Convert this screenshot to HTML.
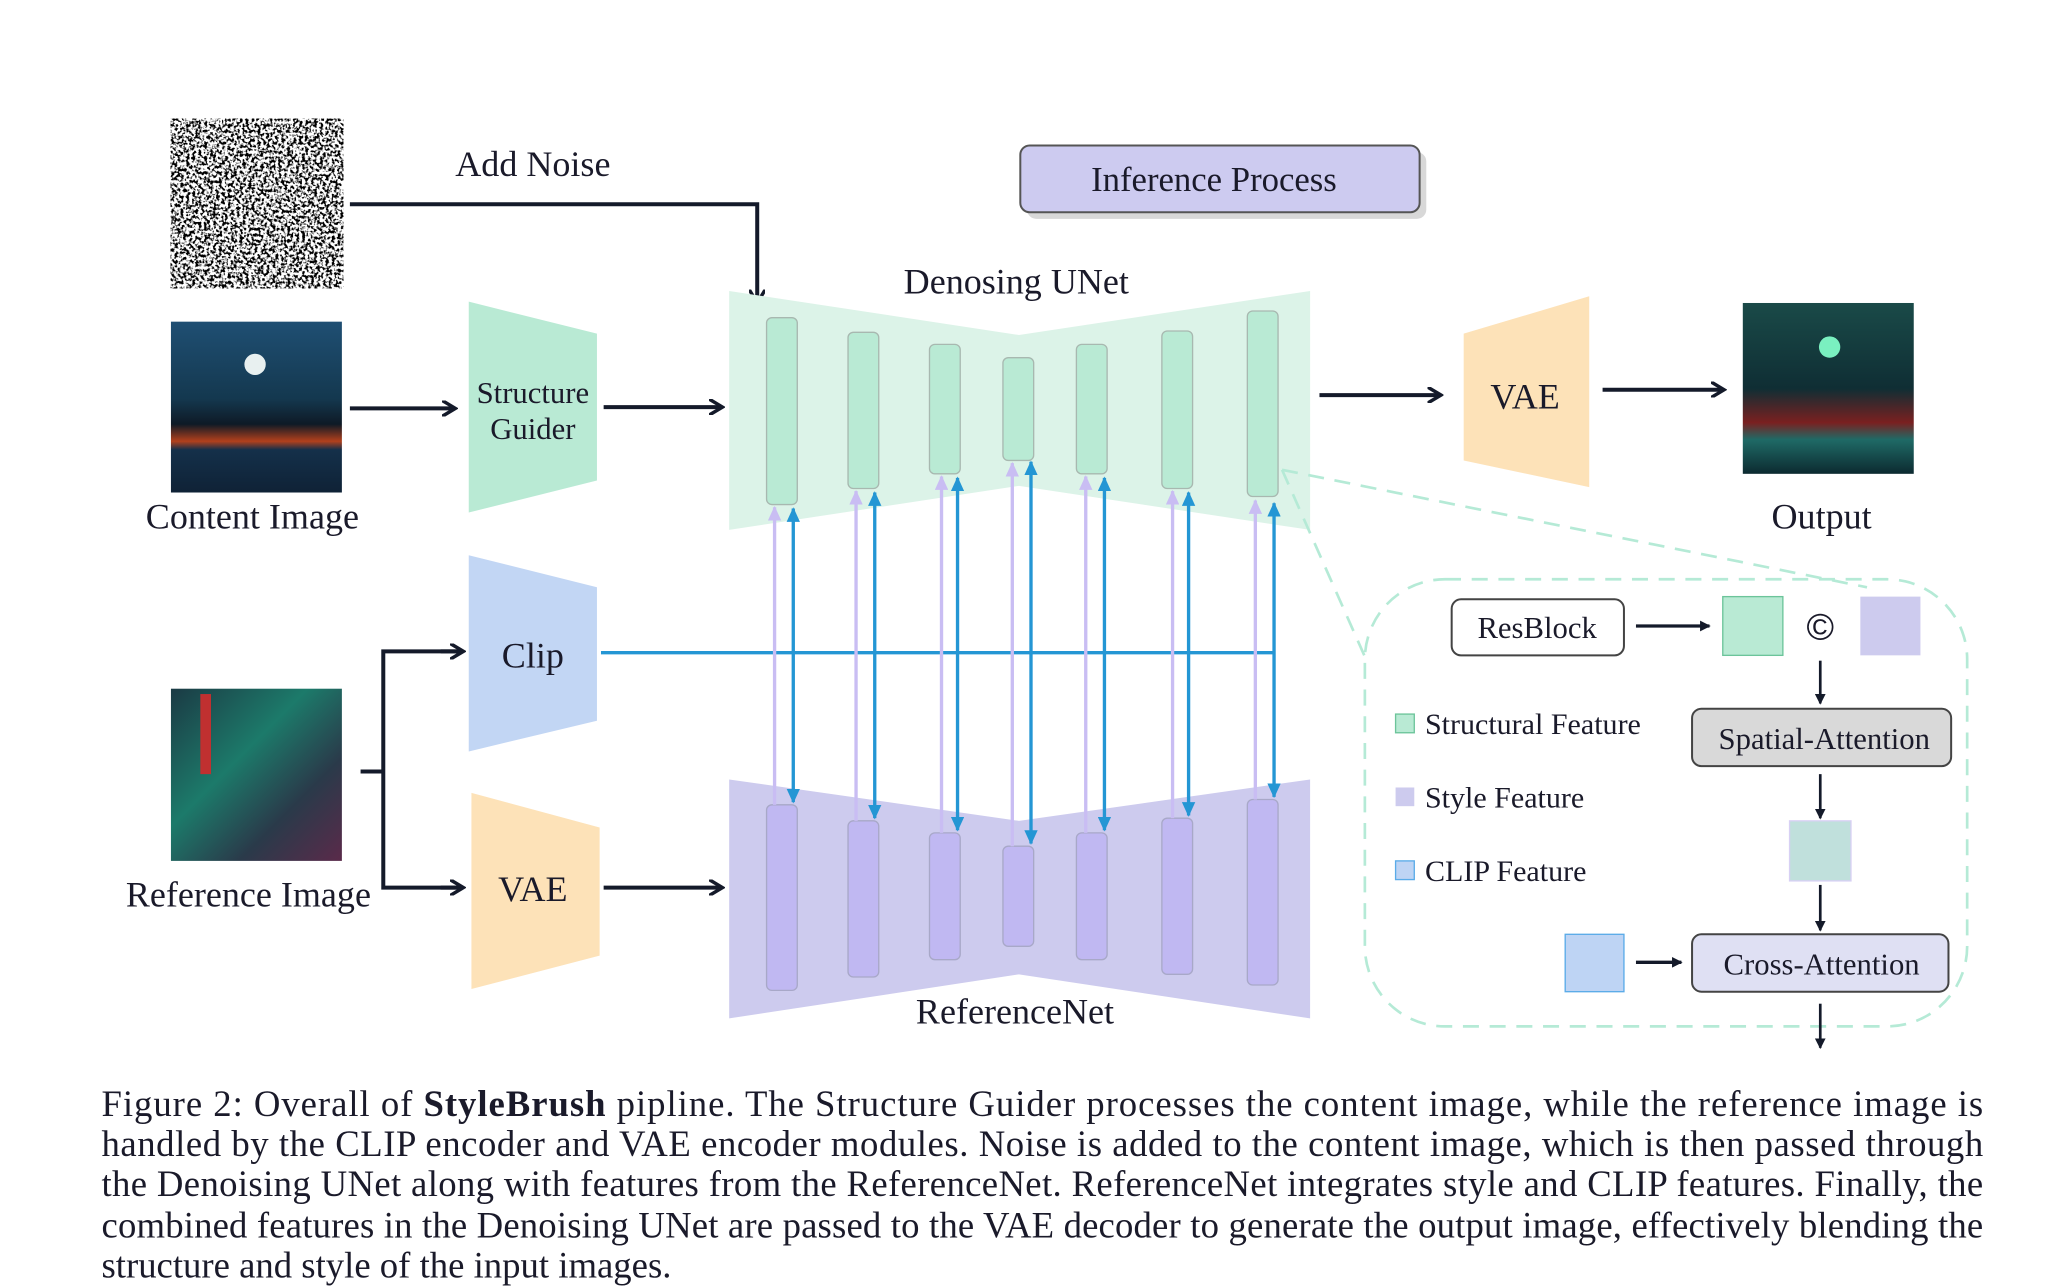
<!DOCTYPE html>
<html><head><meta charset="utf-8"><style>
html,body{margin:0;padding:0;background:#fff;}
svg{display:block;}
text{font-family:"Liberation Serif",serif;fill:#1a1a2a;}
</style></head><body>
<svg width="2070" height="1288" viewBox="0 0 1550 965" preserveAspectRatio="none" xmlns="http://www.w3.org/2000/svg">
<defs>
<filter id="nz" x="0" y="0" width="100%" height="100%">
<feTurbulence type="fractalNoise" baseFrequency="0.45" numOctaves="2" seed="3"/>
<feColorMatrix type="matrix" values="0 0 0 0 0  0 0 0 0 0  0 0 0 0 0  -6 0 0 0 3.3"/>
</filter>
<marker id="ak" markerWidth="12" markerHeight="12" refX="9" refY="6" orient="auto" markerUnits="userSpaceOnUse"><path d="M0,0 L10,6 L0,12" fill="none" stroke="#141a2a" stroke-width="2.6"/></marker>
<marker id="as" markerWidth="8" markerHeight="8" refX="7" refY="4" orient="auto" markerUnits="userSpaceOnUse"><path d="M0,0 L8,4 L0,8 Z" fill="#141a2a"/></marker>
<marker id="ab" markerWidth="12" markerHeight="10" refX="10" refY="5" orient="auto-start-reverse" markerUnits="userSpaceOnUse"><path d="M0,0 L11,5 L0,10 Z" fill="#2496d4"/></marker>
<marker id="ap" markerWidth="12" markerHeight="10" refX="10" refY="5" orient="auto" markerUnits="userSpaceOnUse"><path d="M0,0 L11,5 L0,10 Z" fill="#c9bdf3"/></marker>
<linearGradient id="g1" x1="0" y1="0" x2="0" y2="1"><stop offset="0" stop-color="#1f4f73"/><stop offset="0.45" stop-color="#14384f"/><stop offset="0.6" stop-color="#0e1a26"/><stop offset="0.7" stop-color="#b2401c"/><stop offset="0.75" stop-color="#14304a"/><stop offset="1" stop-color="#0f2236"/></linearGradient>
<linearGradient id="g2" x1="0" y1="0" x2="1" y2="1"><stop offset="0" stop-color="#1b3a44"/><stop offset="0.4" stop-color="#1c7a6a"/><stop offset="0.7" stop-color="#2a3a4a"/><stop offset="1" stop-color="#5a2a4a"/></linearGradient>
<linearGradient id="g3" x1="0" y1="0" x2="0" y2="1"><stop offset="0" stop-color="#1a4a48"/><stop offset="0.5" stop-color="#0f2e34"/><stop offset="0.7" stop-color="#7a2020"/><stop offset="0.8" stop-color="#1f6a66"/><stop offset="1" stop-color="#0c2a30"/></linearGradient>
</defs>

<rect x="128" y="89" width="129" height="127" fill="#fff"/>
<rect x="128" y="89" width="129" height="127" filter="url(#nz)"/>
<rect x="128" y="241" width="128" height="128" fill="url(#g1)"/>
<circle cx="191" cy="273" r="8" fill="#e8f0f0"/>
<rect x="128" y="516" width="128" height="129" fill="url(#g2)"/>
<rect x="150" y="520" width="8" height="60" fill="#c03030"/>
<rect x="1305" y="227" width="128" height="128" fill="url(#g3)"/>
<circle cx="1370" cy="260" r="8" fill="#7af0c0"/>

<text x="399" y="132" font-size="27" text-anchor="middle">Add Noise</text>
<text x="189" y="396" font-size="27" text-anchor="middle">Content Image</text>
<text x="186" y="679" font-size="27" text-anchor="middle">Reference Image</text>
<text x="1364" y="396" font-size="27" text-anchor="middle">Output</text>

<rect x="769" y="114" width="299" height="50" rx="7" fill="#d8d8d8"/>
<rect x="764" y="109" width="299" height="50" rx="7" fill="#cdcbf0" stroke="#555" stroke-width="1.5"/>
<text x="909" y="143" font-size="26" text-anchor="middle">Inference Process</text>

<polyline points="262,153 567,153 567,226" fill="none" stroke="#141a2a" stroke-width="3" marker-end="url(#ak)"/>
<line x1="262" y1="306" x2="340" y2="306" stroke="#141a2a" stroke-width="3" marker-end="url(#ak)"/>
<line x1="452" y1="305" x2="540" y2="305" stroke="#141a2a" stroke-width="3" marker-end="url(#ak)"/>
<polyline points="270,578 287,578" fill="none" stroke="#141a2a" stroke-width="3"/>
<polyline points="346,488 287,488 287,665 346,665" fill="none" stroke="#141a2a" stroke-width="3"/>
<line x1="330" y1="488" x2="346" y2="488" stroke="#141a2a" stroke-width="3" marker-end="url(#ak)"/>
<line x1="330" y1="665" x2="346" y2="665" stroke="#141a2a" stroke-width="3" marker-end="url(#ak)"/>
<line x1="452" y1="665" x2="540" y2="665" stroke="#141a2a" stroke-width="3" marker-end="url(#ak)"/>
<line x1="988" y1="296" x2="1078" y2="296" stroke="#141a2a" stroke-width="3" marker-end="url(#ak)"/>
<line x1="1200" y1="292" x2="1290" y2="292" stroke="#141a2a" stroke-width="3" marker-end="url(#ak)"/>

<polygon points="351,226 447,250 447,360 351,384" fill="#b9ead4"/>
<text x="399" y="302" font-size="23" text-anchor="middle">Structure</text>
<text x="399" y="329" font-size="23" text-anchor="middle">Guider</text>
<polygon points="351,416 447,440 447,540 351,563" fill="#c2d6f4"/>
<text x="399" y="500" font-size="27" text-anchor="middle">Clip</text>
<polygon points="353,594 449,620 449,716 353,741" fill="#fde2b8"/>
<text x="399" y="675" font-size="27" text-anchor="middle">VAE</text>
<polygon points="1096,250 1190,222 1190,365 1096,345" fill="#fde2b8"/>
<text x="1142" y="306" font-size="27" text-anchor="middle">VAE</text>

<polygon points="546,218 763,251 981,218 981,397 763,364 546,397" fill="#dcf3e8"/>
<text x="761" y="220" font-size="27" text-anchor="middle">Denosing UNet</text>
<polygon points="546,584 763,615 981,584 981,763 763,730 546,763" fill="#cdcbee"/>
<text x="760" y="767" font-size="27" text-anchor="middle">ReferenceNet</text>
<g stroke="#a8b8b0" stroke-width="1" fill="#b9ead4">
<rect x="574" y="238" width="23" height="140" rx="4"/>
<rect x="635" y="249" width="23" height="117" rx="4"/>
<rect x="696" y="258" width="23" height="97" rx="4"/>
<rect x="751" y="268" width="23" height="77" rx="4"/>
<rect x="806" y="258" width="23" height="97" rx="4"/>
<rect x="870" y="248" width="23" height="118" rx="4"/>
<rect x="934" y="233" width="23" height="139" rx="4"/>
</g>
<g stroke="#a8a8c8" stroke-width="1" fill="#c0b8f2">
<rect x="574" y="603" width="23" height="139" rx="4"/>
<rect x="635" y="615" width="23" height="117" rx="4"/>
<rect x="696" y="624" width="23" height="95" rx="4"/>
<rect x="751" y="634" width="23" height="75" rx="4"/>
<rect x="806" y="624" width="23" height="95" rx="4"/>
<rect x="870" y="613" width="23" height="117" rx="4"/>
<rect x="934" y="599" width="23" height="139" rx="4"/>
</g>
<line x1="450" y1="489" x2="955" y2="489" stroke="#2496d4" stroke-width="2.5"/>
<g stroke-width="2.5" fill="none">
<line x1="580" y1="603" x2="580" y2="380" stroke="#c9bdf3" marker-end="url(#ap)"/>
<line x1="641" y1="615" x2="641" y2="368" stroke="#c9bdf3" marker-end="url(#ap)"/>
<line x1="705" y1="624" x2="705" y2="357" stroke="#c9bdf3" marker-end="url(#ap)"/>
<line x1="758" y1="634" x2="758" y2="347" stroke="#c9bdf3" marker-end="url(#ap)"/>
<line x1="813" y1="624" x2="813" y2="357" stroke="#c9bdf3" marker-end="url(#ap)"/>
<line x1="878" y1="613" x2="878" y2="368" stroke="#c9bdf3" marker-end="url(#ap)"/>
<line x1="940" y1="599" x2="940" y2="375" stroke="#c9bdf3" marker-end="url(#ap)"/>
<line x1="594" y1="381" x2="594" y2="601" stroke="#2496d4" marker-start="url(#ab)" marker-end="url(#ab)"/>
<line x1="655" y1="369" x2="655" y2="613" stroke="#2496d4" marker-start="url(#ab)" marker-end="url(#ab)"/>
<line x1="717" y1="358" x2="717" y2="622" stroke="#2496d4" marker-start="url(#ab)" marker-end="url(#ab)"/>
<line x1="772" y1="346" x2="772" y2="632" stroke="#2496d4" marker-start="url(#ab)" marker-end="url(#ab)"/>
<line x1="827" y1="358" x2="827" y2="622" stroke="#2496d4" marker-start="url(#ab)" marker-end="url(#ab)"/>
<line x1="890" y1="369" x2="890" y2="611" stroke="#2496d4" marker-start="url(#ab)" marker-end="url(#ab)"/>
<line x1="954" y1="377" x2="954" y2="597" stroke="#2496d4" marker-start="url(#ab)" marker-end="url(#ab)"/>
</g>

<g stroke="#b5ead6" stroke-width="2" stroke-dasharray="12,8" fill="none">
<line x1="960" y1="352" x2="1398" y2="440"/>
<line x1="960" y1="352" x2="1022" y2="492"/>
<rect x="1022" y="434" width="451" height="335" rx="60"/>
</g>
<rect x="1087" y="449" width="129" height="42" rx="7" fill="#fff" stroke="#444" stroke-width="1.5"/>
<text x="1151" y="478" font-size="23" text-anchor="middle">ResBlock</text>
<line x1="1225" y1="469" x2="1280" y2="469" stroke="#141a2a" stroke-width="2.5" marker-end="url(#as)"/>
<rect x="1290" y="447" width="45" height="44" fill="#b9ead4" stroke="#6cc49a" stroke-width="1"/>
<text x="1363" y="479" font-size="28" text-anchor="middle" style="font-family:'Liberation Sans',sans-serif">©</text>
<rect x="1393" y="447" width="45" height="44" fill="#cdcbee"/>
<line x1="1363" y1="495" x2="1363" y2="527" stroke="#141a2a" stroke-width="2" marker-end="url(#as)"/>
<rect x="1267" y="531" width="194" height="43" rx="7" fill="#d9d9d9" stroke="#444" stroke-width="1.5"/>
<text x="1366" y="561" font-size="23" text-anchor="middle">Spatial-Attention</text>
<line x1="1363" y1="580" x2="1363" y2="613" stroke="#141a2a" stroke-width="2" marker-end="url(#as)"/>
<rect x="1340" y="615" width="46" height="45" fill="#c0e0dc" stroke="#d8d0f4" stroke-width="1"/>
<line x1="1363" y1="663" x2="1363" y2="697" stroke="#141a2a" stroke-width="2" marker-end="url(#as)"/>
<rect x="1172" y="700" width="44" height="43" fill="#bed4f4" stroke="#5aabe8" stroke-width="1"/>
<line x1="1225" y1="721" x2="1259" y2="721" stroke="#141a2a" stroke-width="2.5" marker-end="url(#as)"/>
<rect x="1267" y="700" width="192" height="43" rx="7" fill="#dfe0f3" stroke="#444" stroke-width="1.5"/>
<text x="1364" y="730" font-size="23" text-anchor="middle">Cross-Attention</text>
<line x1="1363" y1="752" x2="1363" y2="785" stroke="#141a2a" stroke-width="2" marker-end="url(#as)"/>
<rect x="1045" y="535" width="14" height="14" fill="#b9ead4" stroke="#6cc49a" stroke-width="1"/>
<text x="1067" y="550" font-size="22.5">Structural Feature</text>
<rect x="1045" y="590" width="14" height="14" fill="#cdcbee"/>
<text x="1067" y="605" font-size="22.5">Style Feature</text>
<rect x="1045" y="645" width="14" height="14" fill="#bed4f4" stroke="#5aabe8" stroke-width="1"/>
<text x="1067" y="660" font-size="22.5">CLIP Feature</text>

<g font-size="27.5">
<text x="76" y="836" textLength="1409" lengthAdjust="spacing">Figure 2: Overall of <tspan font-weight="bold">StyleBrush</tspan> pipline. The Structure Guider processes the content image, while the reference image is</text>
<text x="76" y="866" textLength="1409" lengthAdjust="spacing">handled by the CLIP encoder and VAE encoder modules. Noise is added to the content image, which is then passed through</text>
<text x="76" y="896" textLength="1409" lengthAdjust="spacing">the Denoising UNet along with features from the ReferenceNet. ReferenceNet integrates style and CLIP features. Finally, the</text>
<text x="76" y="927" textLength="1409" lengthAdjust="spacing">combined features in the Denoising UNet are passed to the VAE decoder to generate the output image, effectively blending the</text>
<text x="76" y="957">structure and style of the input images.</text>
</g>
</svg>
</body></html>
